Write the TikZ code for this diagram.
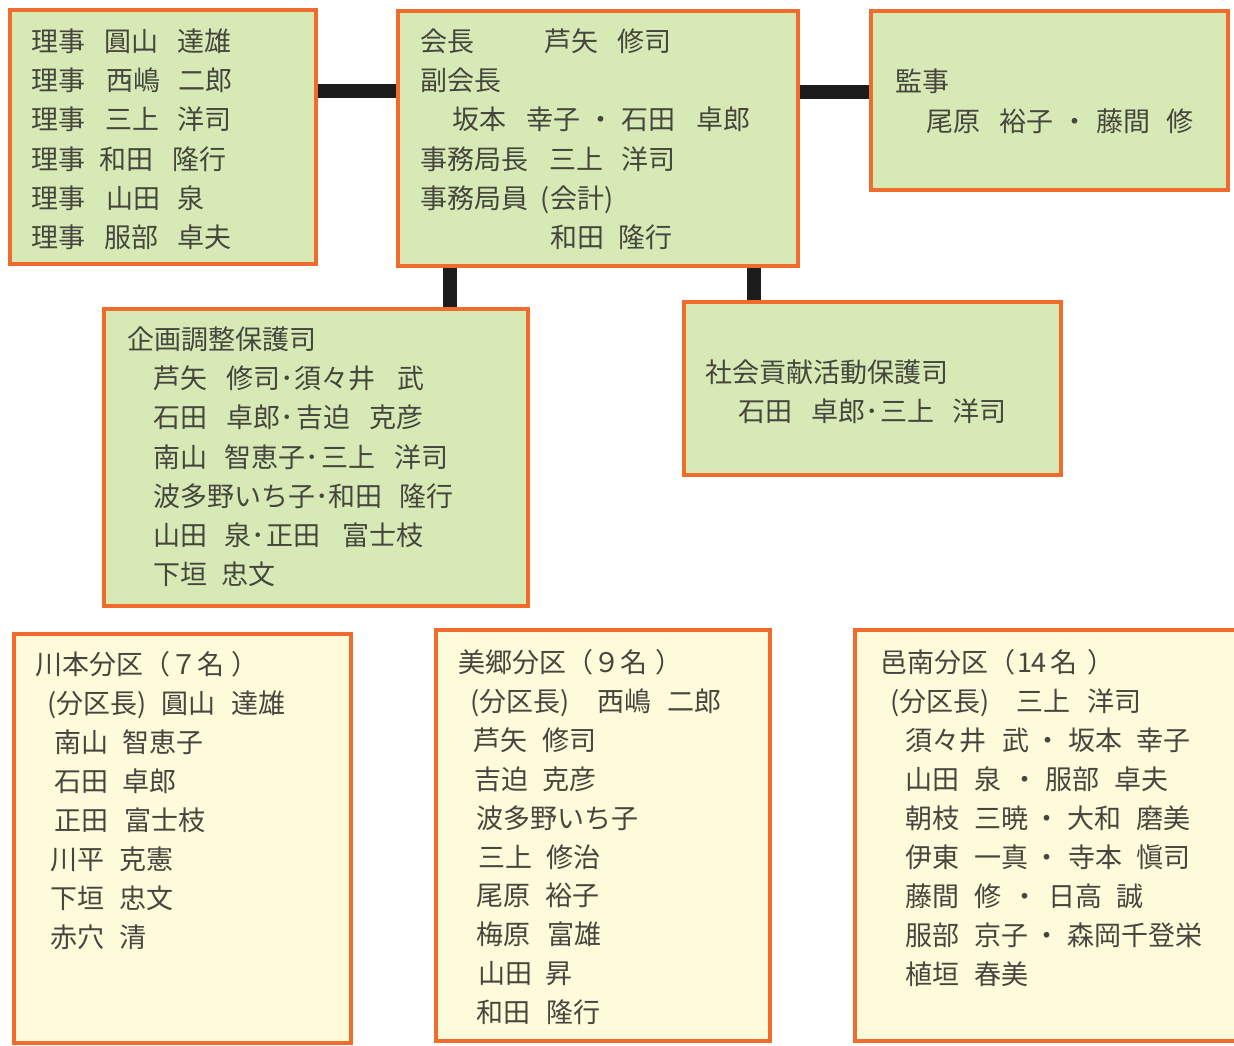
\documentclass[tikz,border=0pt]{standalone}
\usepackage{fontspec}
\newfontfamily\jp{Noto Sans CJK JP}
\definecolor{gfill}{HTML}{D7EAB6}
\definecolor{yfill}{HTML}{FDFBDA}
\definecolor{obord}{HTML}{EF6C2C}
\definecolor{tcol}{HTML}{46463E}
\definecolor{barc}{HTML}{1C1C1C}
\newcommand\col[2]{\makebox[#1][l]{#2}}
\pgfdeclarelayer{bg}\pgfsetlayers{bg,main}
\tikzset{
 gbox/.style={rectangle, draw=obord, line width=4pt, fill=gfill, inner sep=0pt, outer sep=0pt, anchor=north west},
 ybox/.style={gbox, fill=yfill},
 txt/.style={anchor=base west, inner sep=0pt, outer sep=0pt, text=tcol, font=\jp\fontsize{27}{30}\selectfont},
 bar/.style={draw=barc, line width=13.5pt},
}
\begin{document}
\begin{tikzpicture}[x=1pt,y=-1pt]
\useasboundingbox (0,0) rectangle (1234,1045);
\clip (0,0) rectangle (1234,1045);
% boxes
\node[gbox, minimum width=306pt, minimum height=254pt] (b1) at (10,10) {};
\node[gbox, minimum width=400pt, minimum height=255pt] (b2) at (398,11) {};
\node[gbox, minimum width=357pt, minimum height=179pt] (b3) at (871,11) {};
\node[gbox, minimum width=424pt, minimum height=297pt] (b4) at (104,309) {};
\node[gbox, minimum width=377pt, minimum height=173pt] (b5) at (684,302) {};
\node[ybox, minimum width=337pt, minimum height=409pt] (b6) at (14,634) {};
\node[ybox, minimum width=334pt, minimum height=411pt] (b7) at (436,630) {};
\node[ybox, minimum width=400pt, minimum height=411pt] (b8) at (855,630) {};
% connectors
\coordinate (hL) at (0,91);
\coordinate (hR) at (0,92);
\coordinate (v1) at (450,0);
\coordinate (v2) at (754,0);
\begin{pgfonlayer}{bg}
\draw[bar] (b1.east |- hL) -- (b2.west |- hL);
\draw[bar] (b2.east |- hR) -- (b3.west |- hR);
\draw[bar] (b2.south -| v1) -- (b4.north -| v1);
\draw[bar] (b2.south -| v2) -- (b5.north -| v2);
\end{pgfonlayer}
% box 1
\node[txt] (a1) at (31,51)  {\col{74pt}{理事}\col{73pt}{圓山}達雄};
\node[txt] (a2) at (31,90)  {\col{76pt}{理事}\col{72pt}{西嶋}二郎};
\node[txt] (a3) at (31,129) {\col{75pt}{理事}\col{72pt}{三上}洋司};
\node[txt] (a4) at (31,169) {\col{69pt}{理事}\col{73pt}{和田}隆行};
\node[txt] (a5) at (31,208) {\col{76pt}{理事}\col{71pt}{山田}泉};
\node[txt] (a6) at (31,247) {\col{74pt}{理事}\col{73pt}{服部}卓夫};
% box 2
\node[txt] (c1) at (420,51)  {\col{125pt}{会長}\col{73pt}{芦矢}修司};
\node[txt] (c2) at (420,90)  {副会長};
\node[txt] (c3) at (452,129) {\col{75pt}{坂本}\col{60pt}{幸子}\col{35pt}{・}\col{74pt}{石田}卓郎};
\node[txt] (c4) at (420,169) {\col{130pt}{事務局長}\col{72pt}{三上}洋司};
\node[txt] (c5) at (420,208) {\col{121pt}{事務局員}(会計)};
\node[txt] (c6) at (550,247) {\col{69pt}{和田}隆行};
% box 3
\node[txt] (d1) at (895,91)  {監事};
\node[txt] (d2) at (926,131) {\col{74pt}{尾原}\col{61pt}{裕子}\col{35pt}{・}\col{71pt}{藤間}修};
% box 4
\node[txt] (e1) at (127,349) {企画調整保護司};
\node[txt] (e2) at (153,388) {\col{74pt}{芦矢}\col{68pt}{修司･}\col{103pt}{須々井}武};
\node[txt] (e3) at (153,427) {\col{74pt}{石田}\col{70pt}{卓郎･}\col{72pt}{吉迫}克彦};
\node[txt] (e4) at (153,467) {\col{72pt}{南山}\col{97pt}{智恵子･}\col{73pt}{三上}洋司};
\node[txt] (e5) at (153,506) {\col{175pt}{波多野いち子･}\col{72pt}{和田}隆行};
\node[txt] (e6) at (153,545) {\col{72pt}{山田}\col{42pt}{泉･}\col{75pt}{正田}富士枝};
\node[txt] (e7) at (153,584) {\col{69pt}{下垣}忠文};
% box 5
\node[txt] (f1) at (705,382) {社会貢献活動保護司};
\node[txt] (f2) at (738,421) {\col{74pt}{石田}\col{68pt}{卓郎･}\col{73pt}{三上}洋司};
% box 6
\node[txt] (g1) at (35,674) {川本分区（７名\hspace{8pt}）};
\node[txt] (g2) at (47,713) {\col{115pt}{(分区長)}\col{70pt}{圓山}達雄};
\node[txt] (g3) at (54,752) {\col{69pt}{南山}智恵子};
\node[txt] (g4) at (54,791) {\col{69pt}{石田}卓郎};
\node[txt] (g5) at (54,830) {\col{71pt}{正田}富士枝};
\node[txt] (g6) at (50,869) {\col{70pt}{川平}克憲};
\node[txt] (g7) at (50,908) {\col{70pt}{下垣}忠文};
\node[txt] (g8) at (50,947) {\col{70pt}{赤穴}清};
% box 7
\node[txt] (h1)  at (458,672)  {美郷分区（９名\hspace{9pt}）};
\node[txt] (h2)  at (470,711)  {\col{128pt}{(分区長)}\col{70pt}{西嶋}二郎};
\node[txt] (h3)  at (473,750)  {\col{70pt}{芦矢}修司};
\node[txt] (h4)  at (474,789)  {\col{69pt}{吉迫}克彦};
\node[txt] (h5)  at (476,828)  {波多野いち子};
\node[txt] (h6)  at (478,867)  {\col{69pt}{三上}修治};
\node[txt] (h7)  at (476,905)  {\col{70pt}{尾原}裕子};
\node[txt] (h8)  at (476,944)  {\col{72pt}{梅原}富雄};
\node[txt] (h9)  at (478,983)  {\col{68pt}{山田}昇};
\node[txt] (h10) at (476,1022) {\col{71pt}{和田}隆行};
% box 8
\node[txt] (k1) at (880,672) {\col{137pt}{邑南分区（}\col{33pt}{14}\col{38pt}{名}）};
\node[txt] (k2) at (890,711) {\col{127pt}{(分区長)}\col{70pt}{三上}洋司};
\node[txt] (k3) at (905,750) {\col{98pt}{須々井}\col{32pt}{武}\col{33pt}{・}\col{69pt}{坂本}幸子};
\node[txt] (k4) at (905,789) {\col{70pt}{山田}\col{37pt}{泉}\col{33pt}{・}\col{70pt}{服部}卓夫};
\node[txt] (k5) at (905,828) {\col{70pt}{朝枝}\col{59pt}{三暁}\col{33pt}{・}\col{70pt}{大和}磨美};
\node[txt] (k6) at (905,867) {\col{70pt}{伊東}\col{59pt}{一真}\col{34pt}{・}\col{69pt}{寺本}愼司};
\node[txt] (k7) at (905,906) {\col{70pt}{藤間}\col{37pt}{修}\col{36pt}{・}\col{69pt}{日高}誠};
\node[txt] (k8) at (905,945) {\col{70pt}{服部}\col{59pt}{京子}\col{33pt}{・}森岡千登栄};
\node[txt] (k9) at (905,984) {\col{70pt}{植垣}春美};
\end{tikzpicture}
\end{document}
